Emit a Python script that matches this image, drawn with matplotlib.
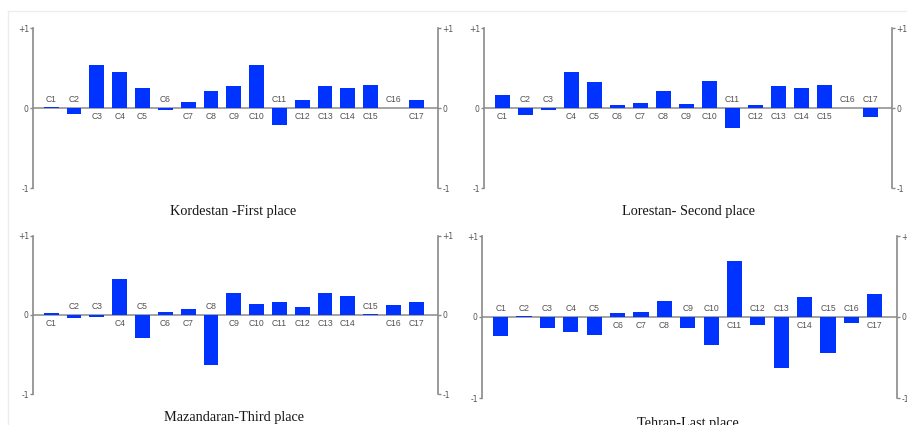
import matplotlib.pyplot as plt
import numpy as np

# criteria names
labels = ['C%d' % i for i in range(1, 18)]

# panel titles
titles = ['Kordestan -First place', 'Lorestan- Second place',
          'Mazandaran-Third place', 'Tehran-Last place']

# values
kordestan = [0.015, -0.075, 0.54, 0.45, 0.25, -0.03, 0.07, 0.21, 0.275,
             0.54, -0.21, 0.10, 0.275, 0.25, 0.29, 0.0, 0.10]
lorestan = [0.163, -0.088, -0.02, 0.45, 0.326, 0.038, 0.067, 0.21, 0.046,
            0.343, -0.255, 0.038, 0.272, 0.255, 0.293, 0.0, -0.109]
mazandaran = [0.03, -0.042, -0.02, 0.458, -0.286, 0.042, 0.071, -0.634, 0.277,
              0.139, 0.16, 0.097, 0.277, 0.235, 0.017, 0.126, 0.16]
tehran = [-0.23, 0.016, -0.13, -0.18, -0.22, 0.045, 0.066, 0.2, -0.14,
          -0.34, 0.69, -0.10, -0.63, 0.25, -0.44, -0.08, 0.28]

series = [kordestan, lorestan, mazandaran, tehran]

W, H = 907, 425
# axes boxes in pixels: left, right, top, bottom
boxes = [(33, 438, 28, 188), (484, 892, 28, 188),
         (33, 438, 236, 394), (482, 897, 236, 398)]
# title centres in pixels
title_pos = [(233, 211), (688, 211), (234, 418), (688, 424)]

AXIS_COLOR = '#8a8a8a'
TEXT_COLOR = '#555050'
BAR_COLOR = '#0033ff'

fig = plt.figure(figsize=(W / 100, H / 100), dpi=100)

# faint frame of the original screenshot
fig.add_artist(plt.Line2D([8 / W, 1], [1 - 11 / H] * 2, color='#ececec', lw=1))
fig.add_artist(plt.Line2D([8 / W] * 2, [0, 1 - 11 / H], color='#ececec', lw=1))

for vals, title, (l, r, t, b), (tx, ty) in zip(series, titles, boxes, title_pos):
    ax = fig.add_axes([l / W, 1 - b / H, (r - l) / W, (b - t) / H])
    x = np.arange(len(labels))
    ax.bar(x, vals, width=0.65, color=BAR_COLOR, zorder=3)
    ax.axhline(0, color=AXIS_COLOR, lw=1.1, zorder=2)
    ax.set_xlim(-0.8, 16.95)
    ax.set_ylim(-1, 1)

    for s in ['top', 'bottom']:
        ax.spines[s].set_visible(False)
    for s in ['left', 'right']:
        ax.spines[s].set_color(AXIS_COLOR)
        ax.spines[s].set_linewidth(1.2)

    ax.set_xticks([])
    ax.set_yticks([-1, 0, 1])
    ax.set_yticklabels(['-1', '0', '+1'])
    ax.tick_params(axis='y', left=True, right=True, labelleft=True, labelright=True,
                   direction='out', length=2, width=1, color=AXIS_COLOR,
                   labelsize=5.5, labelcolor=TEXT_COLOR, pad=1)

    # category labels sit on the other side of the zero line
    for xi, v, lab in zip(x, vals, labels):
        if v < 0.025:
            ax.annotate(lab, (xi, 0), xytext=(0, 3), textcoords='offset points',
                        ha='center', va='bottom', fontsize=6.2, color=TEXT_COLOR,
                        family='Liberation Sans')
        else:
            ax.annotate(lab, (xi, 0), xytext=(0, -3), textcoords='offset points',
                        ha='center', va='top', fontsize=6.2, color=TEXT_COLOR,
                        family='Liberation Sans')

    fig.text(tx / W, 1 - ty / H, title, ha='center', va='center', fontsize=10.3,
             family='Liberation Serif', color='#161616')

fig.savefig('out.png', dpi=100)
